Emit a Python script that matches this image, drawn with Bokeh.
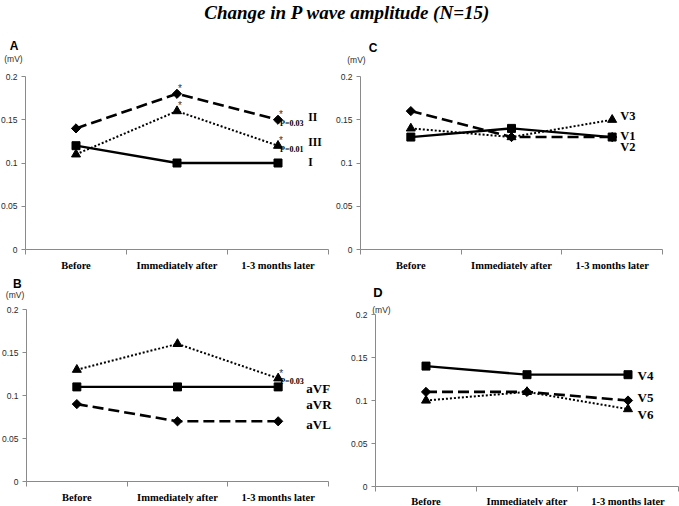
import math
from bokeh.plotting import figure
from bokeh.models import Range1d, FixedTicker, NumeralTickFormatter
from bokeh.layouts import column, row
from bokeh.embed import file_html
from bokeh.resources import INLINE
from bokeh.core.properties import value

# ---------------- data ----------------
title_text = "Change  in P wave amplitude (N=15)"
categories = ["Before", "Immediately after", "1-3 months later"]
y_ticks = [0, 0.05, 0.1, 0.15, 0.2]

# Panel A (limb leads)
a_names = ["I", "II", "III"]
a_I = [0.12, 0.10, 0.10]
a_II = [0.14, 0.18, 0.15]
a_III = [0.11, 0.16, 0.12]

# Panel B (augmented leads)
b_names = ["aVR", "aVL", "aVF"]
b_aVR = [0.11, 0.11, 0.11]
b_aVL = [0.09, 0.07, 0.07]
b_aVF = [0.13, 0.16, 0.12]

# Panel C (V1-V3)
c_names = ["V1", "V2", "V3"]
c_V1 = [0.13, 0.14, 0.13]
c_V2 = [0.16, 0.13, 0.13]
c_V3 = [0.14, 0.13, 0.15]

# Panel D (V4-V6)
d_names = ["V4", "V5", "V6"]
d_V4 = [0.14, 0.13, 0.13]
d_V5 = [0.11, 0.11, 0.10]
d_V6 = [0.10, 0.11, 0.09]

# ---------------- styling ----------------
SERIF = "Liberation Serif"
SANS = "Liberation Sans"
AXIS = "#8a8a8a"
xs = [i + 0.5 for i in range(len(categories))]
bounds = [float(i) for i in range(len(categories) + 1)]
NCAT = float(len(categories))
YTOP = y_ticks[-1]

STYLES = {
    "solid": dict(dash="solid", lw=2.3, marker="square", size=8, angle=0.0),
    "dashed": dict(dash="11 5", lw=2.6, marker="square", size=6.5, angle=math.pi / 4),
    "dotted": dict(dash="2 2", lw=2.0, marker="triangle", size=9, angle=0.0),
}


def panel(w, h, px0, px3, py0, py02, letter, letter_xy, letter_size,
          mv_xy, series, names, name_x, name_y, name_size, xstand=5):
    # pixel geometry -> data ranges (frame covers the whole figure, axes are pinned)
    sx = NCAT / (px3 - px0)
    sy = YTOP / (py0 - py02)
    p = figure(width=w, height=h,
               x_range=Range1d(-px0 * sx, (w - px0) * sx),
               y_range=Range1d(-(h - py0) * sy, py0 * sy),
               output_backend="svg", toolbar_location=None, min_border=0)
    p.grid.visible = False
    p.outline_line_color = None
    p.background_fill_color = "white"
    p.border_fill_color = "white"

    xa = p.xaxis[0]
    xa.fixed_location = 0
    xa.bounds = (0, NCAT)
    xa.ticker = FixedTicker(ticks=xs, minor_ticks=bounds)
    xa.major_label_overrides = {x: c for x, c in zip(xs, categories)}
    xa.major_tick_line_color = None
    xa.major_tick_out = 0
    xa.major_tick_in = 0
    xa.minor_tick_line_color = AXIS
    xa.minor_tick_out = 5
    xa.minor_tick_in = 0
    xa.axis_line_color = AXIS
    xa.axis_line_width = 1
    xa.major_label_standoff = xstand
    xa.major_label_text_font = SERIF
    xa.major_label_text_font_style = "bold"
    xa.major_label_text_font_size = "10.5px"
    xa.major_label_text_color = "black"

    ya = p.yaxis[0]
    ya.fixed_location = 0
    ya.bounds = (0, YTOP)
    ya.ticker = FixedTicker(ticks=y_ticks)
    ya.formatter = NumeralTickFormatter(format="0.[00]")
    ya.axis_line_color = AXIS
    ya.major_tick_line_color = AXIS
    ya.major_tick_out = 4
    ya.major_tick_in = 0
    ya.minor_tick_line_color = None
    ya.major_label_standoff = 4
    ya.major_label_text_font = SANS
    ya.major_label_text_font_size = "8.5px"
    ya.major_label_text_color = "#2a2a2a"

    # panel letter and unit
    p.text(x=[letter_xy[0]], y=[letter_xy[1]], text=[letter],
           text_font=value(SANS), text_font_style="bold",
           text_font_size=letter_size, text_align="center",
           text_baseline="middle", text_color="black")
    p.text(x=[mv_xy[0]], y=[mv_xy[1]], text=["(mV)"],
           text_font=value(SANS), text_font_size="8.5px",
           text_align="center", text_baseline="middle", text_color="#2a2a2a")

    for vals, style in series:
        st = STYLES[style]
        p.line(xs, vals, line_color="black", line_width=st["lw"],
               line_dash=st["dash"])
        p.scatter(xs, vals, marker=st["marker"], size=st["size"],
                  angle=st["angle"], fill_color="black", line_color="black")

    p.text(x=[name_x] * len(names), y=name_y, text=names,
           text_font=value(SERIF), text_font_style="bold",
           text_font_size=name_size, text_align="left",
           text_baseline="middle", text_color="black")
    return p


def stars(p, pts):
    p.text(x=[xs[i] + 0.03 for i, v in pts], y=[v + 0.006 for i, v in pts],
           text=["*"] * len(pts), text_font=value(SANS),
           text_font_size="10px", text_align="center",
           text_baseline="middle", text_color="#333333")


def pvals(p, pts, texts):
    p.text(x=[xs[i] + 0.02 for i, v in pts], y=[v - 0.004 for i, v in pts],
           text=texts, text_font=value(SERIF), text_font_style="bold",
           text_font_size="8px", text_align="left",
           text_baseline="middle", text_color="black")


# ---------------- panels ----------------
# figure-local pixel geometry: x=0, x=3, y=0, y=0.2
pA = panel(335, 240, 25, 328, 219, 46, "A", (-0.113, 0.2347), "12px",
           (-0.119, 0.2197),
           [(a_I, "solid"), (a_II, "dashed"), (a_III, "dotted")],
           ["II", "III", "I"], 2.80, [0.153, 0.124, 0.101], "11.5px")
stars(pA, [(1, a_II[1]), (1, a_III[1]), (2, a_II[2]), (2, a_III[2])])
pvals(pA, [(2, a_II[2]), (2, a_III[2])], ["P=0.03", "P=0.01"])

pC = panel(344, 240, 25, 327, 219, 46, "C", (0.124, 0.2329), "12px",
           (-0.04, 0.2185),
           [(c_V1, "solid"), (c_V2, "dashed"), (c_V3, "dotted")],
           ["V3", "V1", "V2"], 2.58, [0.154, 0.131, 0.118], "12.5px")

pB = panel(335, 235, 26, 328, 211, 39, "B", (-0.092, 0.2291), "12px",
           (-0.114, 0.2163),
           [(b_aVR, "solid"), (b_aVL, "dashed"), (b_aVF, "dotted")],
           ["aVF", "aVR", "aVL"], 2.78, [0.108, 0.089, 0.066], "13px")
stars(pB, [(2, b_aVF[2])])
pvals(pB, [(2, b_aVF[2])], ["P=0.03"])

pD = panel(344, 235, 40, 343, 216, 44, "D", (0.025, 0.2256), "13px",
           (0.059, 0.2047),
           [(d_V4, "solid"), (d_V5, "dashed"), (d_V6, "dotted")],
           ["V4", "V5", "V6"], 2.594, [0.129, 0.103, 0.084], "13px", xstand=4)

# ---------------- title ----------------
pt = figure(width=679, height=30, x_range=Range1d(0, 679), y_range=Range1d(0, 30),
            x_axis_type=None, y_axis_type=None, output_backend="svg",
            toolbar_location=None, min_border=0)
pt.grid.visible = False
pt.outline_line_color = None
pt.text(x=[349], y=[18.5], text=[title_text], text_font=value(SERIF),
        text_font_style="bold italic", text_font_size="19px",
        text_align="center", text_baseline="middle", text_color="black")

layout = column(pt, row(pA, pC), row(pB, pD))
open("out.html", "w").write(file_html(layout, INLINE))
